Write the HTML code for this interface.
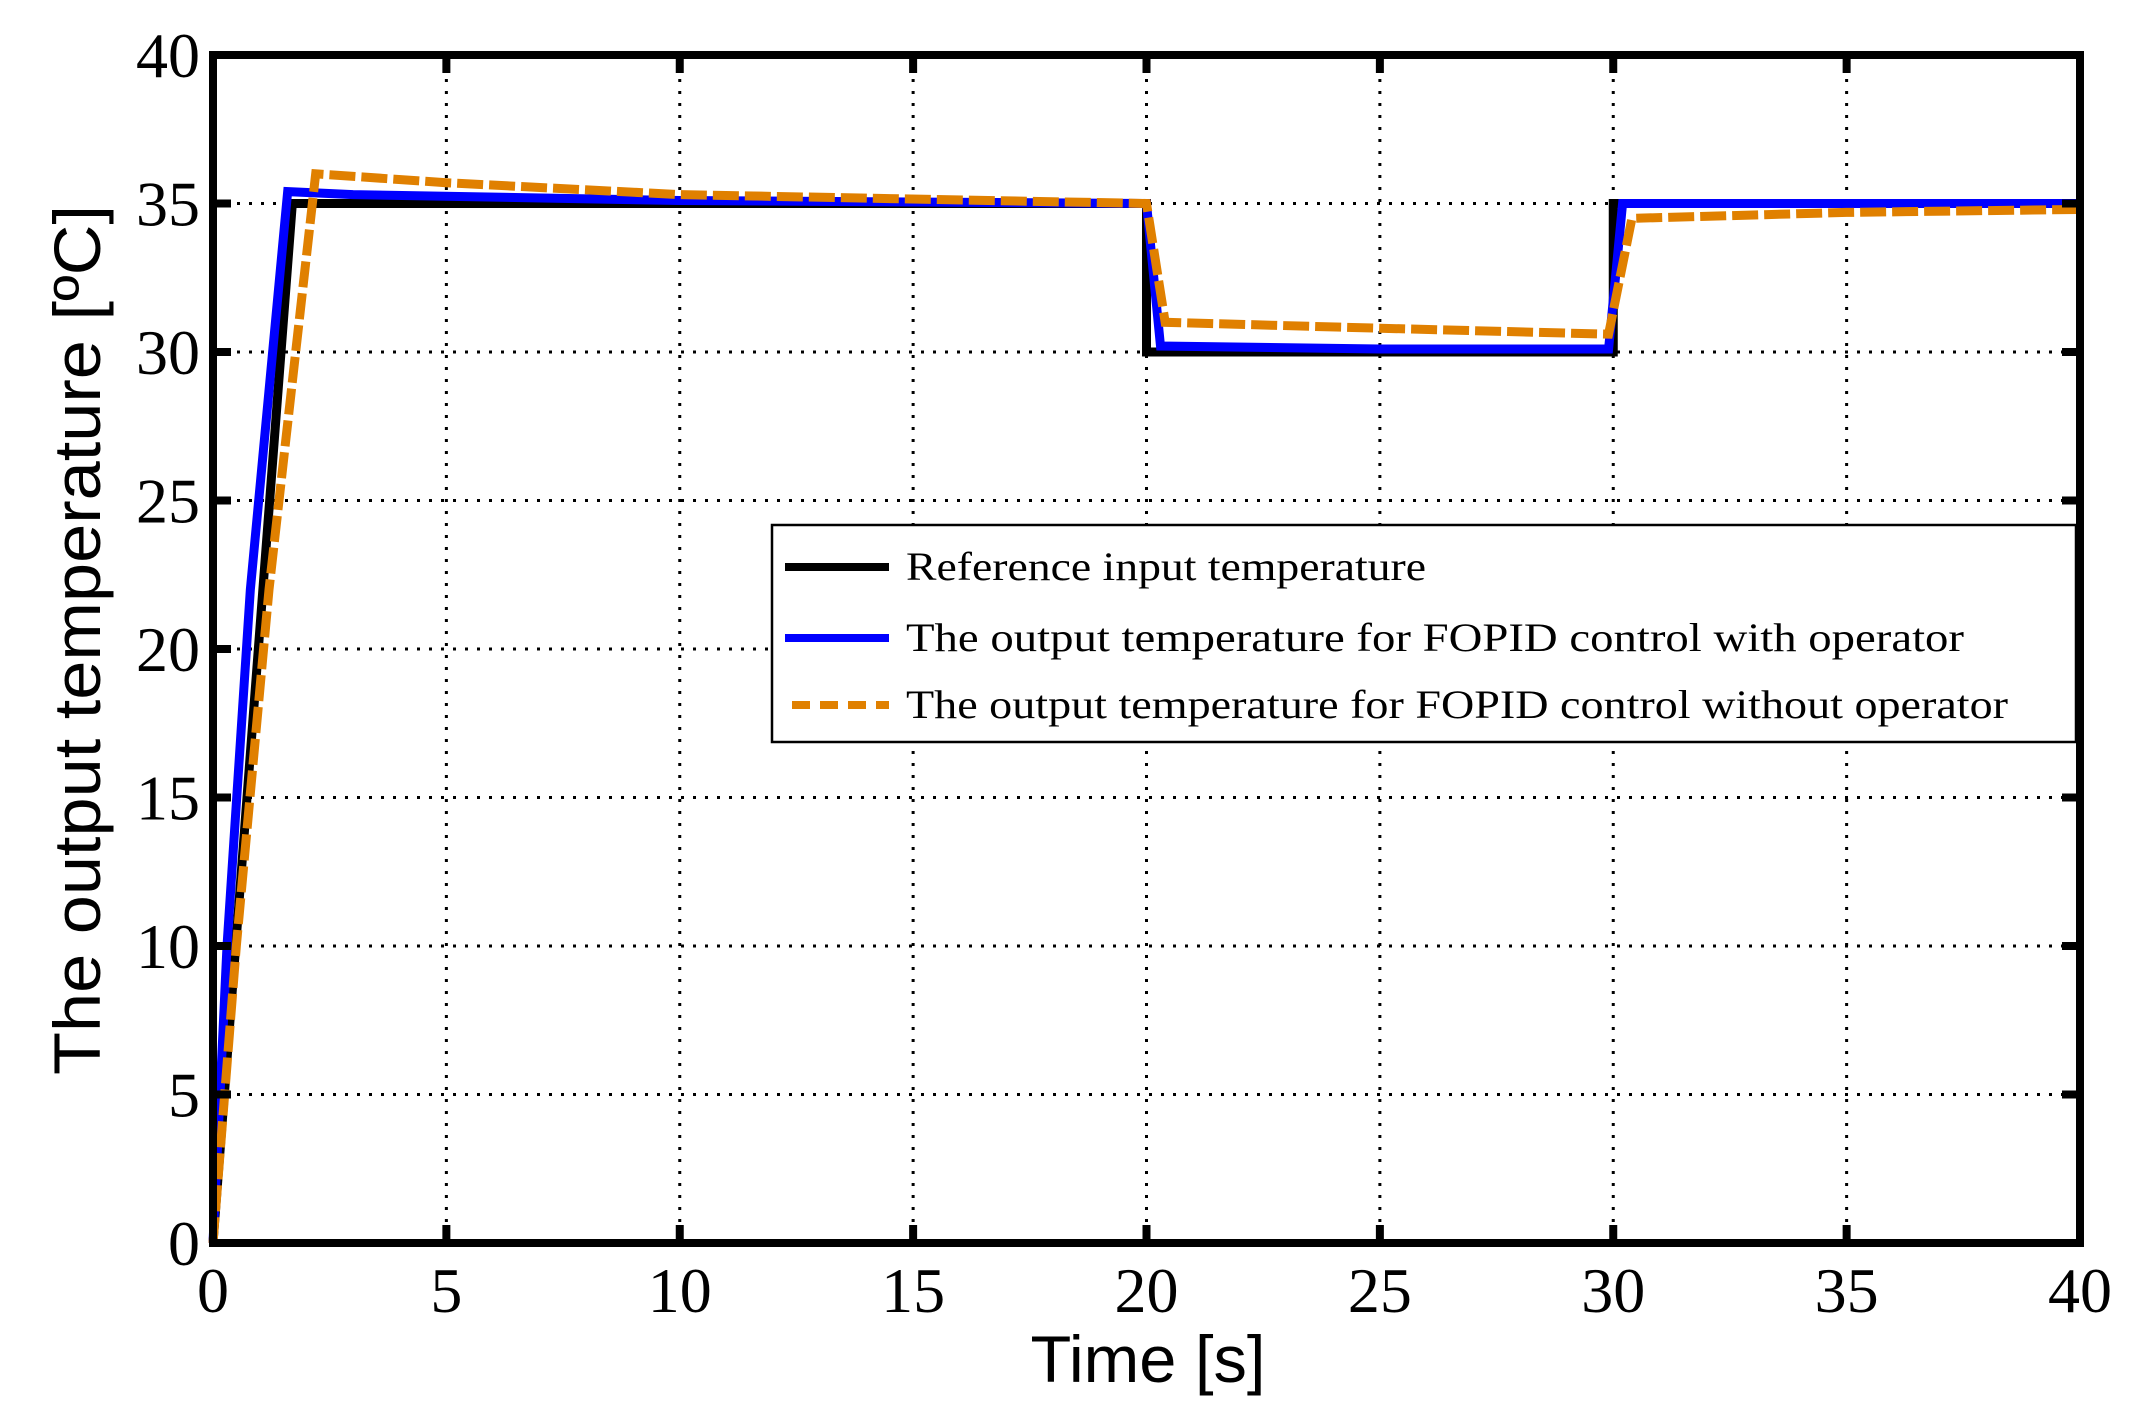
<!DOCTYPE html>
<html><head><meta charset="utf-8"><style>
html,body{margin:0;padding:0;background:#fff;}
svg{display:block;}
</style></head><body>
<svg id="chart" width="2152" height="1419" viewBox="0 0 2152 1419" xmlns="http://www.w3.org/2000/svg">
<g id="grid"></g>
<g id="series"></g>
<rect x="213" y="55" width="1867" height="1188" fill="none" stroke="#000" stroke-width="8"/>
<g id="ticks"></g>
<text transform="translate(100,640) rotate(-90)" text-anchor="middle" font-family="Liberation Sans, sans-serif" font-size="66" textLength="870" lengthAdjust="spacingAndGlyphs">The output temperature [ºC]</text>
<text x="1148" y="1382" text-anchor="middle" font-family="Liberation Sans, sans-serif" font-size="66" textLength="235" lengthAdjust="spacingAndGlyphs">Time [s]</text>
<g>
<rect x="772" y="525" width="1304" height="217" fill="#fff" stroke="#000" stroke-width="2.5"/>
<line x1="785" y1="567" x2="889" y2="567" stroke="#000" stroke-width="8"/>
<text x="906" y="580" font-family="Liberation Serif, serif" font-size="40" textLength="520" lengthAdjust="spacingAndGlyphs">Reference input temperature</text>
<line x1="785" y1="638" x2="889" y2="638" stroke="#0000ff" stroke-width="8"/>
<text x="906" y="651" font-family="Liberation Serif, serif" font-size="40" textLength="1058" lengthAdjust="spacingAndGlyphs">The output  temperature for FOPID control with operator</text>
<line x1="792" y1="705" x2="889" y2="705" stroke="#e08000" stroke-width="8" stroke-dasharray="18,10"/>
<text x="906" y="718" font-family="Liberation Serif, serif" font-size="40" textLength="1102" lengthAdjust="spacingAndGlyphs">The output temperature for FOPID control without operator</text>
</g>
</svg>
<script>
const xTicks=[0,5,10,15,20,25,30,35,40];
const yTicks=[0,5,10,15,20,25,30,35,40];
const refT=[0,1.7,20,20,30,30,40];
const refY=[0,35,35,30,30,35,35];
const withT=[0,0.3,0.8,1.6,3,10,20,20.3,25,29.9,30.2,40];
const withY=[0,10,22,35.4,35.3,35.1,35,30.2,30.1,30.1,35,35];
const withoutT=[0,0.5,1.2,2.2,5,10,20,20.4,25,29.9,30.4,35,40];
const withoutY=[0,10,22,36,35.7,35.3,35,31,30.8,30.6,34.5,34.7,34.8];
const NS='http://www.w3.org/2000/svg';
const X0=213,X1=2080,Y0=1243,Y1=55;
function sx(t){return X0+(t-0)/(40-0)*(X1-X0);}
function sy(v){return Y0-(v-0)/(40-0)*(Y0-Y1);}
const grid=document.getElementById('grid'),ticks=document.getElementById('ticks'),series=document.getElementById('series');
function mk(tag,attrs,parent){const e=document.createElementNS(NS,tag);for(const k in attrs)e.setAttribute(k,attrs[k]);parent.appendChild(e);return e;}
xTicks.forEach(t=>{
  if(t>0&&t<40){const g=mk('line',{x1:sx(t),x2:sx(t),y1:Y1,y2:Y0,stroke:'#000','stroke-width':3,'stroke-dasharray':'3,9'},grid);
  
  
  const a=mk('line',{x1:sx(t),x2:sx(t),y1:Y0,y2:Y0-18,stroke:'#000','stroke-width':8},ticks);
  
  
  const b=mk('line',{x1:sx(t),x2:sx(t),y1:Y1,y2:Y1+18,stroke:'#000','stroke-width':8},ticks);
  
  }
  const l=mk('text',{x:sx(t),y:1312,'text-anchor':'middle','font-family':'Liberation Serif, serif','font-size':64},ticks);
  l.textContent=t;
  
  
});
yTicks.forEach(v=>{
  if(v>0&&v<40){const g=mk('line',{x1:X0,x2:X1,y1:sy(v),y2:sy(v),stroke:'#000','stroke-width':3,'stroke-dasharray':'3,9'},grid);
  
  
  const a=mk('line',{x1:X0,x2:X0+18,y1:sy(v),y2:sy(v),stroke:'#000','stroke-width':8},ticks);
  
  
  const b=mk('line',{x1:X1,x2:X1-18,y1:sy(v),y2:sy(v),stroke:'#000','stroke-width':8},ticks);
  
  }
  const l=mk('text',{x:200,y:sy(v)+22,'text-anchor':'end','font-family':'Liberation Serif, serif','font-size':64},ticks);
  l.textContent=v;
  
  
});
function pts(T,Y){return T.map((t,i)=>sx(t)+','+sy(Y[i])).join(' ');}
const r=mk('polyline',{points:pts(refT,refY),fill:'none',stroke:'#000','stroke-width':9},series);


const w=mk('polyline',{points:pts(withT,withY),fill:'none',stroke:'#0000ff','stroke-width':9},series);


const o=mk('polyline',{points:pts(withoutT,withoutY),fill:'none',stroke:'#e08000','stroke-width':9,'stroke-dasharray':'26,6'},series);


</script>
</body></html>
